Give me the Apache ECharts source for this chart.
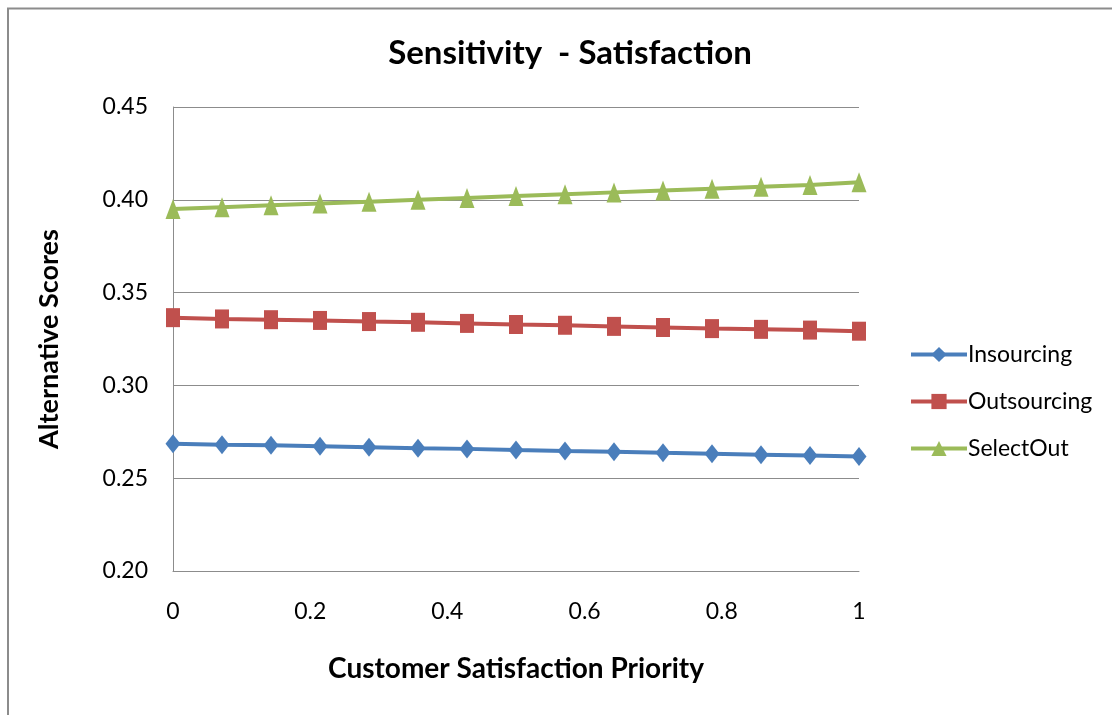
<!DOCTYPE html>
<html>
<head>
<meta charset="utf-8">
<script src="https://cdn.jsdelivr.net/npm/echarts@6/dist/echarts.min.js"></script>
<style>
  html, body { margin: 0; padding: 0; background: #fff; }
  #chart { width: 1112px; height: 715px; }
</style>
</head>
<body>
<div id="chart"></div>
<script>
// Customer satisfaction priority (0 .. 1 in 14 steps)
const priority = [0, 1/14, 2/14, 3/14, 4/14, 5/14, 6/14, 7/14, 8/14, 9/14, 10/14, 11/14, 12/14, 13/14, 1];

// Alternative scores for each option
const insourcing  = [0.2685, 0.2680, 0.2677, 0.2672, 0.2667, 0.2662, 0.2658, 0.2652, 0.2647, 0.2643, 0.2637, 0.2632, 0.2627, 0.2622, 0.2617];
const outsourcing = [0.3365, 0.3358, 0.3354, 0.3350, 0.3344, 0.3340, 0.3334, 0.3328, 0.3324, 0.3318, 0.3312, 0.3306, 0.3302, 0.3298, 0.3292];
const selectOut   = [0.3950, 0.3960, 0.3970, 0.3980, 0.3990, 0.4000, 0.4010, 0.4020, 0.4030, 0.4040, 0.4050, 0.4060, 0.4070, 0.4080, 0.4095];

const yTicks = [0.20, 0.25, 0.30, 0.35, 0.40, 0.45];

const FONT = 'Lato, "Open Sans", sans-serif';

function pairs(values) {
  return priority.map((x, i) => [x, values[i]]);
}

const chart = echarts.init(document.getElementById('chart'), null, { renderer: 'canvas' });

chart.setOption({
  backgroundColor: '#ffffff',
  animation: false,
  title: {
    text: 'Sensitivity  - Satisfaction',
    left: 565,
    top: 32,
    textAlign: 'center',
    textStyle: { fontFamily: FONT, fontSize: 33, fontWeight: 'bold', color: '#000' }
  },
  graphic: [
    {
      type: 'polyline',
      shape: { points: [[8, 715], [8, 8.5], [1112, 8.5]] },
      style: { stroke: '#8c8c8c', lineWidth: 2, fill: null }
    }
  ],
  legend: {
    orient: 'vertical',
    left: 904,
    top: 338,
    itemGap: 24,
    itemWidth: 56,
    itemHeight: 19,
    lineStyle: { width: 4 },
    textStyle: { fontFamily: FONT, fontSize: 23, color: '#000', padding: [0, 0, 0, -4] },
    data: ['Insourcing', 'Outsourcing', 'SelectOut']
  },
  grid: { left: 173, right: 253, top: 107, bottom: 144 },
  xAxis: {
    type: 'value',
    min: 0,
    max: 1,
    interval: 0.2,
    name: 'Customer Satisfaction Priority',
    nameLocation: 'middle',
    nameGap: 84,
    nameTextStyle: { fontFamily: FONT, fontSize: 28, fontWeight: 'bold', color: '#000' },
    axisLine: { show: true, lineStyle: { color: '#8c8c8c', width: 1 } },
    axisTick: { show: false },
    splitLine: { show: false },
    axisLabel: {
      margin: 29,
      fontFamily: FONT, fontSize: 23, color: '#000',
      formatter: v => String(Math.round(v * 10) / 10)
    }
  },
  yAxis: {
    type: 'value',
    min: yTicks[0],
    max: yTicks[yTicks.length - 1],
    interval: 0.05,
    name: 'Alternative Scores',
    nameLocation: 'middle',
    nameGap: 110,
    nameTextStyle: { fontFamily: FONT, fontSize: 27, fontWeight: 'bold', color: '#000' },
    axisLine: { show: true, lineStyle: { color: '#8c8c8c', width: 1 } },
    axisTick: { show: false },
    splitLine: { show: true, lineStyle: { color: '#8c8c8c', width: 1 } },
    axisLabel: {
      margin: 25,
      fontFamily: FONT, fontSize: 23, color: '#000',
      formatter: v => v.toFixed(2)
    }
  },
  series: [
    {
      name: 'Insourcing',
      type: 'line',
      data: pairs(insourcing),
      symbol: 'diamond',
      symbolSize: [15, 19],
      color: '#4a7ebb',
      lineStyle: { width: 4, color: '#4a7ebb' },
      itemStyle: { color: '#4a7ebb' },
      z: 3
    },
    {
      name: 'Outsourcing',
      type: 'line',
      data: pairs(outsourcing),
      symbol: 'rect',
      symbolSize: [14, 19],
      color: '#c0504d',
      lineStyle: { width: 4, color: '#c0504d' },
      itemStyle: { color: '#c0504d' },
      z: 3
    },
    {
      name: 'SelectOut',
      type: 'line',
      data: pairs(selectOut),
      symbol: 'triangle',
      symbolSize: [15, 20],
      color: '#9bbb59',
      lineStyle: { width: 4, color: '#9bbb59' },
      itemStyle: { color: '#9bbb59' },
      z: 3
    }
  ]
});
</script>
</body>
</html>
